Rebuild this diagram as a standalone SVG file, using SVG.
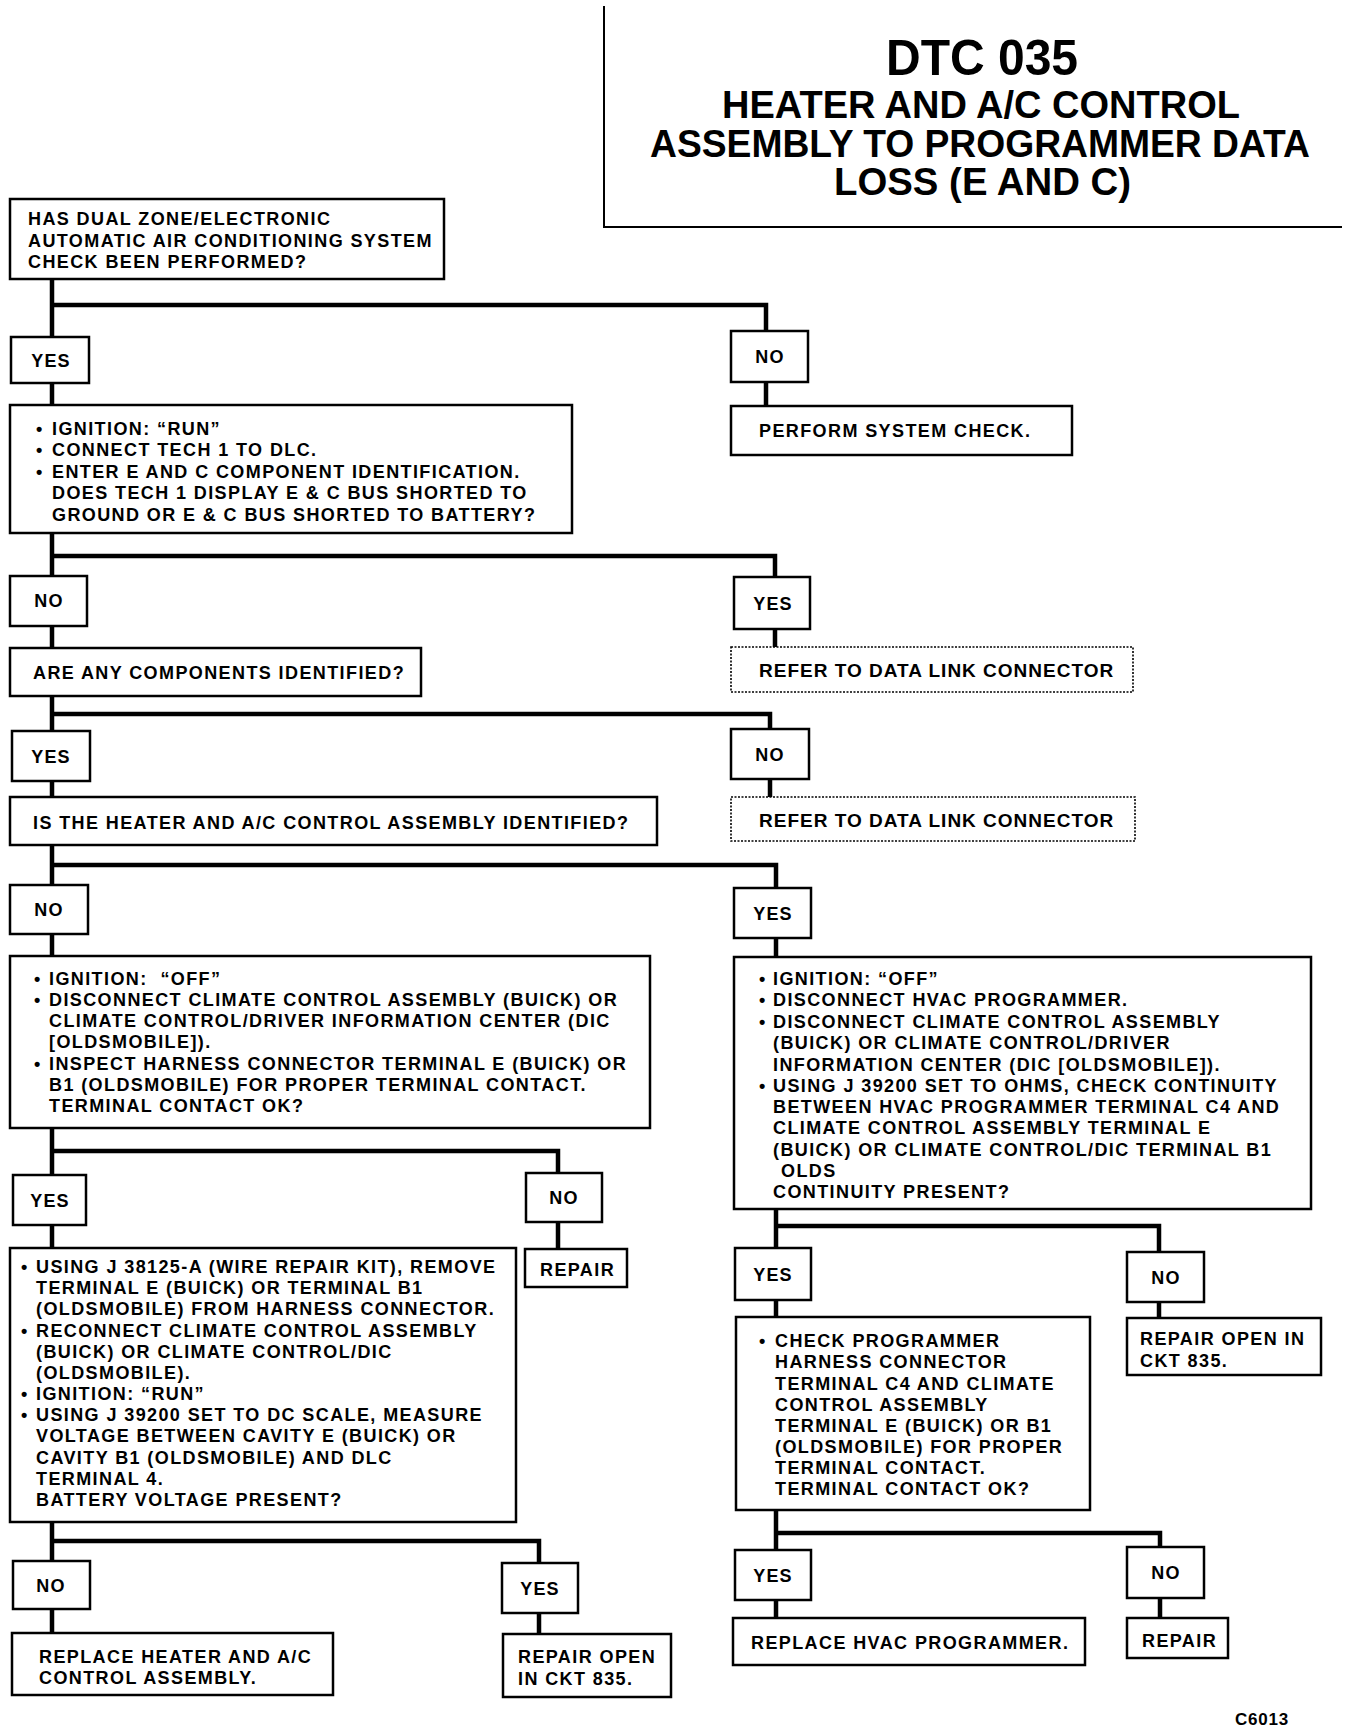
<svg xmlns="http://www.w3.org/2000/svg" width="1360" height="1732" viewBox="0 0 1360 1732">
<style>
.box{fill:#fff;stroke:#000;stroke-width:2.5}
.dot{fill:#fff;stroke:#000;stroke-width:1.6;stroke-dasharray:2 1.5}
.conn{fill:none;stroke:#000;stroke-width:4.5;stroke-linejoin:miter}
.rule{fill:none;stroke:#000;stroke-width:2}
text{font-family:"Liberation Sans",Arial,sans-serif;font-weight:bold;fill:#000}
.t{font-size:18px;letter-spacing:1.4px}
.lbl{font-size:18px;letter-spacing:1.2px;text-anchor:middle}
.rf{font-size:19px;letter-spacing:1px}
.ttl{font-size:39px}
</style>
<rect width="1360" height="1732" fill="#fff"/>

<g id="title">
<path class="rule" d="M604,6 V227 H1342"/>
<text x="886" y="75" font-size="50" textLength="192" lengthAdjust="spacingAndGlyphs">DTC 035</text>
<text class="ttl" x="722" y="118" textLength="518" lengthAdjust="spacingAndGlyphs">HEATER AND A/C CONTROL</text>
<text class="ttl" x="650" y="157" textLength="660" lengthAdjust="spacingAndGlyphs">ASSEMBLY TO PROGRAMMER DATA</text>
<text class="ttl" x="834" y="195" textLength="297" lengthAdjust="spacingAndGlyphs">LOSS (E AND C)</text>
</g>

<g id="connectors">
<path class="conn" d="M52,279 V339 M52,305 H766 V331 M52,383 V405 M766,382 V406"/>
<path class="conn" d="M52,533 V576 M52,556 H775 V577 M52,626 V648 M775,629 V647"/>
<path class="conn" d="M52,696 V731 M52,714 H770 V729 M52,781 V797 M770,779 V797"/>
<path class="conn" d="M52,845 V885 M52,865 H776 V888 M52,934 V956 M776,938 V957"/>
<path class="conn" d="M52,1128 V1175 M52,1151 H558 V1173 M52,1225 V1248 M558,1222 V1249"/>
<path class="conn" d="M52,1522 V1561 M52,1541 H539 V1563 M52,1609 V1633 M539,1613 V1634"/>
<path class="conn" d="M776,1209 V1248 M776,1226 H1159 V1252 M776,1300 V1317 M1159,1302 V1318"/>
<path class="conn" d="M776,1510 V1550 M776,1533 H1160 V1547 M776,1600 V1618 M1160,1598 V1618"/>
</g>

<g id="q1">
<rect class="box" x="10" y="199" width="434" height="80"/>
<text class="t"><tspan x="28" y="225">HAS DUAL ZONE/ELECTRONIC</tspan><tspan x="28" y="247">AUTOMATIC AIR CONDITIONING SYSTEM</tspan><tspan x="28" y="268">CHECK BEEN PERFORMED?</tspan></text>
</g>
<g id="q1-yes"><rect class="box" x="11" y="337" width="78" height="46"/><text class="lbl" x="51" y="367">YES</text></g>
<g id="q1-no"><rect class="box" x="731" y="331" width="77" height="51"/><text class="lbl" x="770" y="363">NO</text></g>
<g id="perform"><rect class="box" x="731" y="406" width="341" height="49"/><text class="t" x="759" y="437">PERFORM SYSTEM CHECK.</text></g>

<g id="q2">
<rect class="box" x="10" y="405" width="562" height="128"/>
<text class="t"><tspan x="36" y="435">•</tspan><tspan x="52" y="435">IGNITION: “RUN”</tspan><tspan x="36" y="456">•</tspan><tspan x="52" y="456">CONNECT TECH 1 TO DLC.</tspan><tspan x="36" y="478">•</tspan><tspan x="52" y="478">ENTER E AND C COMPONENT IDENTIFICATION.</tspan><tspan x="52" y="499">DOES TECH 1 DISPLAY E &amp; C BUS SHORTED TO</tspan><tspan x="52" y="521">GROUND OR E &amp; C BUS SHORTED TO BATTERY?</tspan></text>
</g>
<g id="q2-no"><rect class="box" x="10" y="576" width="77" height="50"/><text class="lbl" x="49" y="607">NO</text></g>
<g id="q2-yes"><rect class="box" x="734" y="577" width="76" height="52"/><text class="lbl" x="773" y="610">YES</text></g>
<g id="dlc1"><rect class="dot" x="731" y="647" width="402" height="45"/><text class="rf" x="759" y="677">REFER TO DATA LINK CONNECTOR</text></g>

<g id="q3"><rect class="box" x="10" y="648" width="411" height="48"/><text class="t" x="33" y="679">ARE ANY COMPONENTS IDENTIFIED?</text></g>
<g id="q3-yes"><rect class="box" x="12" y="731" width="78" height="50"/><text class="lbl" x="51" y="763">YES</text></g>
<g id="q3-no"><rect class="box" x="731" y="729" width="78" height="50"/><text class="lbl" x="770" y="761">NO</text></g>
<g id="dlc2"><rect class="dot" x="731" y="797" width="404" height="44"/><text class="rf" x="759" y="827">REFER TO DATA LINK CONNECTOR</text></g>

<g id="q4"><rect class="box" x="10" y="797" width="647" height="48"/><text class="t" x="33" y="829">IS THE HEATER AND A/C CONTROL ASSEMBLY IDENTIFIED?</text></g>
<g id="q4-no"><rect class="box" x="10" y="885" width="78" height="49"/><text class="lbl" x="49" y="916">NO</text></g>
<g id="q4-yes"><rect class="box" x="734" y="888" width="77" height="50"/><text class="lbl" x="773" y="920">YES</text></g>

<g id="q5">
<rect class="box" x="10" y="956" width="640" height="172"/>
<text class="t"><tspan x="34" y="985">•</tspan><tspan x="49" y="985" style="white-space:pre">IGNITION:  “OFF”</tspan><tspan x="34" y="1006">•</tspan><tspan x="49" y="1006">DISCONNECT CLIMATE CONTROL ASSEMBLY (BUICK) OR</tspan><tspan x="49" y="1027">CLIMATE CONTROL/DRIVER INFORMATION CENTER (DIC</tspan><tspan x="49" y="1048">[OLDSMOBILE]).</tspan><tspan x="34" y="1070">•</tspan><tspan x="49" y="1070">INSPECT HARNESS CONNECTOR TERMINAL E (BUICK) OR</tspan><tspan x="49" y="1091">B1 (OLDSMOBILE) FOR PROPER TERMINAL CONTACT.</tspan><tspan x="49" y="1112">TERMINAL CONTACT OK?</tspan></text>
</g>

<g id="q6">
<rect class="box" x="734" y="957" width="577" height="252"/>
<text class="t"><tspan x="759" y="985">•</tspan><tspan x="773" y="985">IGNITION: “OFF”</tspan><tspan x="759" y="1006">•</tspan><tspan x="773" y="1006">DISCONNECT HVAC PROGRAMMER.</tspan><tspan x="759" y="1028">•</tspan><tspan x="773" y="1028">DISCONNECT CLIMATE CONTROL ASSEMBLY</tspan><tspan x="773" y="1049">(BUICK) OR CLIMATE CONTROL/DRIVER</tspan><tspan x="773" y="1071">INFORMATION CENTER (DIC [OLDSMOBILE]).</tspan><tspan x="759" y="1092">•</tspan><tspan x="773" y="1092">USING J 39200 SET TO OHMS, CHECK CONTINUITY</tspan><tspan x="773" y="1113">BETWEEN HVAC PROGRAMMER TERMINAL C4 AND</tspan><tspan x="773" y="1134">CLIMATE CONTROL ASSEMBLY TERMINAL E</tspan><tspan x="773" y="1156">(BUICK) OR CLIMATE CONTROL/DIC TERMINAL B1</tspan><tspan x="781" y="1177">OLDS</tspan><tspan x="773" y="1198">CONTINUITY PRESENT?</tspan></text>
</g>

<g id="q5-yes"><rect class="box" x="13" y="1175" width="73" height="50"/><text class="lbl" x="50" y="1207">YES</text></g>
<g id="q5-no"><rect class="box" x="526" y="1173" width="76" height="49"/><text class="lbl" x="564" y="1204">NO</text></g>
<g id="repair1"><rect class="box" x="525" y="1249" width="102" height="38"/><text class="t" x="540" y="1276">REPAIR</text></g>

<g id="q7">
<rect class="box" x="10" y="1248" width="506" height="274"/>
<text class="t"><tspan x="21" y="1273">•</tspan><tspan x="36" y="1273">USING J 38125-A (WIRE REPAIR KIT), REMOVE</tspan><tspan x="36" y="1294">TERMINAL E (BUICK) OR TERMINAL B1</tspan><tspan x="36" y="1315">(OLDSMOBILE) FROM HARNESS CONNECTOR.</tspan><tspan x="21" y="1337">•</tspan><tspan x="36" y="1337">RECONNECT CLIMATE CONTROL ASSEMBLY</tspan><tspan x="36" y="1358">(BUICK) OR CLIMATE CONTROL/DIC</tspan><tspan x="36" y="1379">(OLDSMOBILE).</tspan><tspan x="21" y="1400">•</tspan><tspan x="36" y="1400">IGNITION: “RUN”</tspan><tspan x="21" y="1421">•</tspan><tspan x="36" y="1421">USING J 39200 SET TO DC SCALE, MEASURE</tspan><tspan x="36" y="1442">VOLTAGE BETWEEN CAVITY E (BUICK) OR</tspan><tspan x="36" y="1464">CAVITY B1 (OLDSMOBILE) AND DLC</tspan><tspan x="36" y="1485">TERMINAL 4.</tspan><tspan x="36" y="1506">BATTERY VOLTAGE PRESENT?</tspan></text>
</g>

<g id="q7-no"><rect class="box" x="13" y="1561" width="77" height="48"/><text class="lbl" x="51" y="1592">NO</text></g>
<g id="q7-yes"><rect class="box" x="502" y="1563" width="76" height="50"/><text class="lbl" x="540" y="1595">YES</text></g>
<g id="replace-heater"><rect class="box" x="12" y="1633" width="321" height="62"/><text class="t"><tspan x="39" y="1663">REPLACE HEATER AND A/C</tspan><tspan x="39" y="1684">CONTROL ASSEMBLY.</tspan></text></g>
<g id="repair-open1"><rect class="box" x="503" y="1634" width="168" height="63"/><text class="t"><tspan x="518" y="1663">REPAIR OPEN</tspan><tspan x="518" y="1685">IN CKT 835.</tspan></text></g>

<g id="q6-yes"><rect class="box" x="735" y="1248" width="76" height="52"/><text class="lbl" x="773" y="1281">YES</text></g>
<g id="q6-no"><rect class="box" x="1127" y="1252" width="77" height="50"/><text class="lbl" x="1166" y="1284">NO</text></g>
<g id="repair-open2"><rect class="box" x="1127" y="1318" width="194" height="57"/><text class="t"><tspan x="1140" y="1345">REPAIR OPEN IN</tspan><tspan x="1140" y="1367">CKT 835.</tspan></text></g>

<g id="q8">
<rect class="box" x="736" y="1317" width="354" height="193"/>
<text class="t"><tspan x="759" y="1347">•</tspan><tspan x="775" y="1347">CHECK PROGRAMMER</tspan><tspan x="775" y="1368">HARNESS CONNECTOR</tspan><tspan x="775" y="1390">TERMINAL C4 AND CLIMATE</tspan><tspan x="775" y="1411">CONTROL ASSEMBLY</tspan><tspan x="775" y="1432">TERMINAL E (BUICK) OR B1</tspan><tspan x="775" y="1453">(OLDSMOBILE) FOR PROPER</tspan><tspan x="775" y="1474">TERMINAL CONTACT.</tspan><tspan x="775" y="1495">TERMINAL CONTACT OK?</tspan></text>
</g>

<g id="q8-yes"><rect class="box" x="735" y="1550" width="76" height="50"/><text class="lbl" x="773" y="1582">YES</text></g>
<g id="q8-no"><rect class="box" x="1127" y="1547" width="77" height="51"/><text class="lbl" x="1166" y="1579">NO</text></g>
<g id="replace-hvac"><rect class="box" x="733" y="1618" width="352" height="47"/><text class="t" x="751" y="1649">REPLACE HVAC PROGRAMMER.</text></g>
<g id="repair2"><rect class="box" x="1127" y="1618" width="101" height="40"/><text class="t" x="1142" y="1647">REPAIR</text></g>

<text x="1235" y="1725" font-size="17" letter-spacing="0.8">C6013</text>
</svg>
